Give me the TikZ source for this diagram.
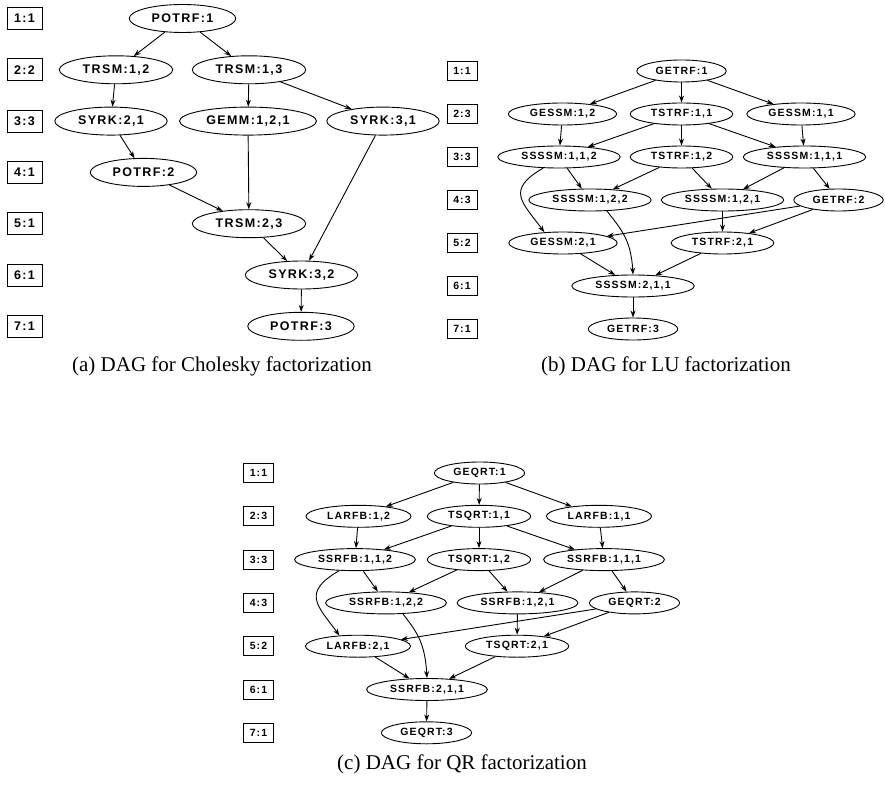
\documentclass[tikz,border=0pt]{standalone}
\usepackage{fontspec}
\setmainfont{Liberation Serif}
\newfontfamily\dagfont[LetterSpace=11]{Liberation Sans}
\usetikzlibrary{shapes.geometric,arrows.meta}

\tikzset{
  task/.style={ellipse, draw, line width=0.9pt, inner xsep=6.8pt, inner ysep=0pt,
    minimum height=28pt, font=\dagfont\bfseries\fontsize{12.5}{12.5}\selectfont},
  tasksm/.style={task, inner xsep=5.7pt, minimum height=22pt,
    font=\dagfont\bfseries\fontsize{10.5}{10.5}\selectfont},
  lvlbox/.style={draw, line width=0.9pt, inner sep=0pt, minimum width=35pt, minimum height=22pt,
    font=\dagfont\bfseries\fontsize{12.5}{12.5}\selectfont},
  lvlboxsm/.style={lvlbox, minimum width=30pt, minimum height=19pt,
    font=\dagfont\bfseries\fontsize{10.5}{10.5}\selectfont},
  dep/.style={line width=0.9pt, -{Stealth[length=7pt,width=5pt]}},
  figcap/.style={anchor=base, font=\fontsize{21}{21}\selectfont},
}

\begin{document}
\begin{tikzpicture}[x=1pt, y=-1pt]
\useasboundingbox (0,0) rectangle (885,786);

% (a) Cholesky
\foreach \i/\t in {1/1:1,2/2:2,3/3:3,4/4:1,5/5:1,6/6:1,7/7:1}
  \node[lvlbox] (la\i) at (24.5,{18.5+51.3*(\i-1)}) {\t};
\node[task] (potrf1) at (182.5,18.5) {POTRF:1};
\node[task] (trsm12) at (116,69.8) {TRSM:1,2};
\node[task] (trsm13) at (249,69.8) {TRSM:1,3};
\node[task] (syrk21) at (111,121.1) {SYRK:2,1};
\node[task] (gemm121) at (248,121.1) {GEMM:1,2,1};
\node[task] (syrk31) at (383,121.1) {SYRK:3,1};
\node[task] (potrf2) at (143.5,172.4) {POTRF:2};
\node[task] (trsm23) at (249,223.7) {TRSM:2,3};
\node[task] (syrk32) at (301.5,275) {SYRK:3,2};
\node[task] (potrf3) at (301,326.3) {POTRF:3};
\foreach \a/\b in {potrf1/trsm12, potrf1/trsm13, trsm12/syrk21, trsm13/gemm121,
    trsm13/syrk31, syrk21/potrf2, potrf2/trsm23, gemm121/trsm23, trsm23/syrk32,
    syrk31/syrk32, syrk32/potrf3}
  \draw[dep] (\a) -- (\b);
\node[figcap] (capa) at (222,371) {(a) DAG for Cholesky factorization};

% (b) LU
\foreach \i/\t in {1/1:1,2/2:3,3/3:3,4/4:3,5/5:2,6/6:1,7/7:1}
  \node[lvlboxsm] (lb\i) at (462,{71+43*(\i-1)}) {\t};
\node[tasksm] (getrf1) at (681.5,71) {GETRF:1};
\node[tasksm] (gessm12) at (562.5,114) {GESSM:1,2};
\node[tasksm] (tstrf11) at (681.5,114) {TSTRF:1,1};
\node[tasksm] (gessm11) at (801,114) {GESSM:1,1};
\node[tasksm] (ssssm112) at (559,157) {SSSSM:1,1,2};
\node[tasksm] (tstrf12) at (681.5,157) {TSTRF:1,2};
\node[tasksm] (ssssm111) at (804.5,157) {SSSSM:1,1,1};
\node[tasksm] (ssssm122) at (590,200) {SSSSM:1,2,2};
\node[tasksm] (ssssm121) at (722.5,200) {SSSSM:1,2,1};
\node[tasksm] (getrf2) at (838.5,200) {GETRF:2};
\node[tasksm] (gessm21) at (563,243) {GESSM:2,1};
\node[tasksm] (tstrf21) at (722.5,243) {TSTRF:2,1};
\node[tasksm] (ssssm211) at (633,286) {SSSSM:2,1,1};
\node[tasksm] (getrf3) at (633,329) {GETRF:3};
\foreach \a/\b in {getrf1/gessm12, getrf1/tstrf11, getrf1/gessm11, gessm12/ssssm112,
    tstrf11/ssssm112, tstrf11/tstrf12, tstrf11/ssssm111, gessm11/ssssm111,
    ssssm112/ssssm122, tstrf12/ssssm122, tstrf12/ssssm121, ssssm111/ssssm121,
    ssssm111/getrf2, ssssm121/tstrf21, getrf2/gessm21, getrf2/tstrf21,
    gessm21/ssssm211, tstrf21/ssssm211, ssssm211/getrf3}
  \draw[dep] (\a) -- (\b);
\draw[dep] (ssssm112.215) .. controls +(-38,22) and +(-22,-30) .. (gessm21.150);
\draw[dep] (ssssm122.-33) .. controls +(14,18) and +(-2,-35) .. (ssssm211.north);
\node[figcap] (capb) at (666,371) {(b) DAG for LU factorization};

% (c) QR
\foreach \i/\t in {1/1:1,2/2:3,3/3:3,4/4:3,5/5:2,6/6:1,7/7:1}
  \node[lvlboxsm] (lc\i) at (258.5,{473+43.3*(\i-1)}) {\t};
\node[tasksm] (geqrt1) at (479.5,473) {GEQRT:1};
\node[tasksm] (larfb12) at (358.5,516.3) {LARFB:1,2};
\node[tasksm] (tsqrt11) at (479,516.3) {TSQRT:1,1};
\node[tasksm] (larfb11) at (599,516.3) {LARFB:1,1};
\node[tasksm] (ssrfb112) at (355,559.6) {SSRFB:1,1,2};
\node[tasksm] (tsqrt12) at (479,559.6) {TSQRT:1,2};
\node[tasksm] (ssrfb111) at (604,559.6) {SSRFB:1,1,1};
\node[tasksm] (ssrfb122) at (386,602.9) {SSRFB:1,2,2};
\node[tasksm] (ssrfb121) at (517.5,602.9) {SSRFB:1,2,1};
\node[tasksm] (geqrt2) at (634.5,602.9) {GEQRT:2};
\node[tasksm] (larfb21) at (358,646.2) {LARFB:2,1};
\node[tasksm] (tsqrt21) at (517,646.2) {TSQRT:2,1};
\node[tasksm] (ssrfb211) at (427,689.5) {SSRFB:2,1,1};
\node[tasksm] (geqrt3) at (426.5,732.8) {GEQRT:3};
\foreach \a/\b in {geqrt1/larfb12, geqrt1/tsqrt11, geqrt1/larfb11, larfb12/ssrfb112,
    tsqrt11/ssrfb112, tsqrt11/tsqrt12, tsqrt11/ssrfb111, larfb11/ssrfb111,
    ssrfb112/ssrfb122, tsqrt12/ssrfb122, tsqrt12/ssrfb121, ssrfb111/ssrfb121,
    ssrfb111/geqrt2, ssrfb121/tsqrt21, geqrt2/larfb21, geqrt2/tsqrt21,
    larfb21/ssrfb211, tsqrt21/ssrfb211, ssrfb211/geqrt3}
  \draw[dep] (\a) -- (\b);
\draw[dep] (ssrfb112.215) .. controls +(-38,22) and +(-22,-30) .. (larfb21.150);
\draw[dep] (ssrfb122.-33) .. controls +(14,18) and +(-2,-35) .. (ssrfb211.north);
\node[figcap] (capc) at (462,769) {(c) DAG for QR factorization};
\end{tikzpicture}
\end{document}
